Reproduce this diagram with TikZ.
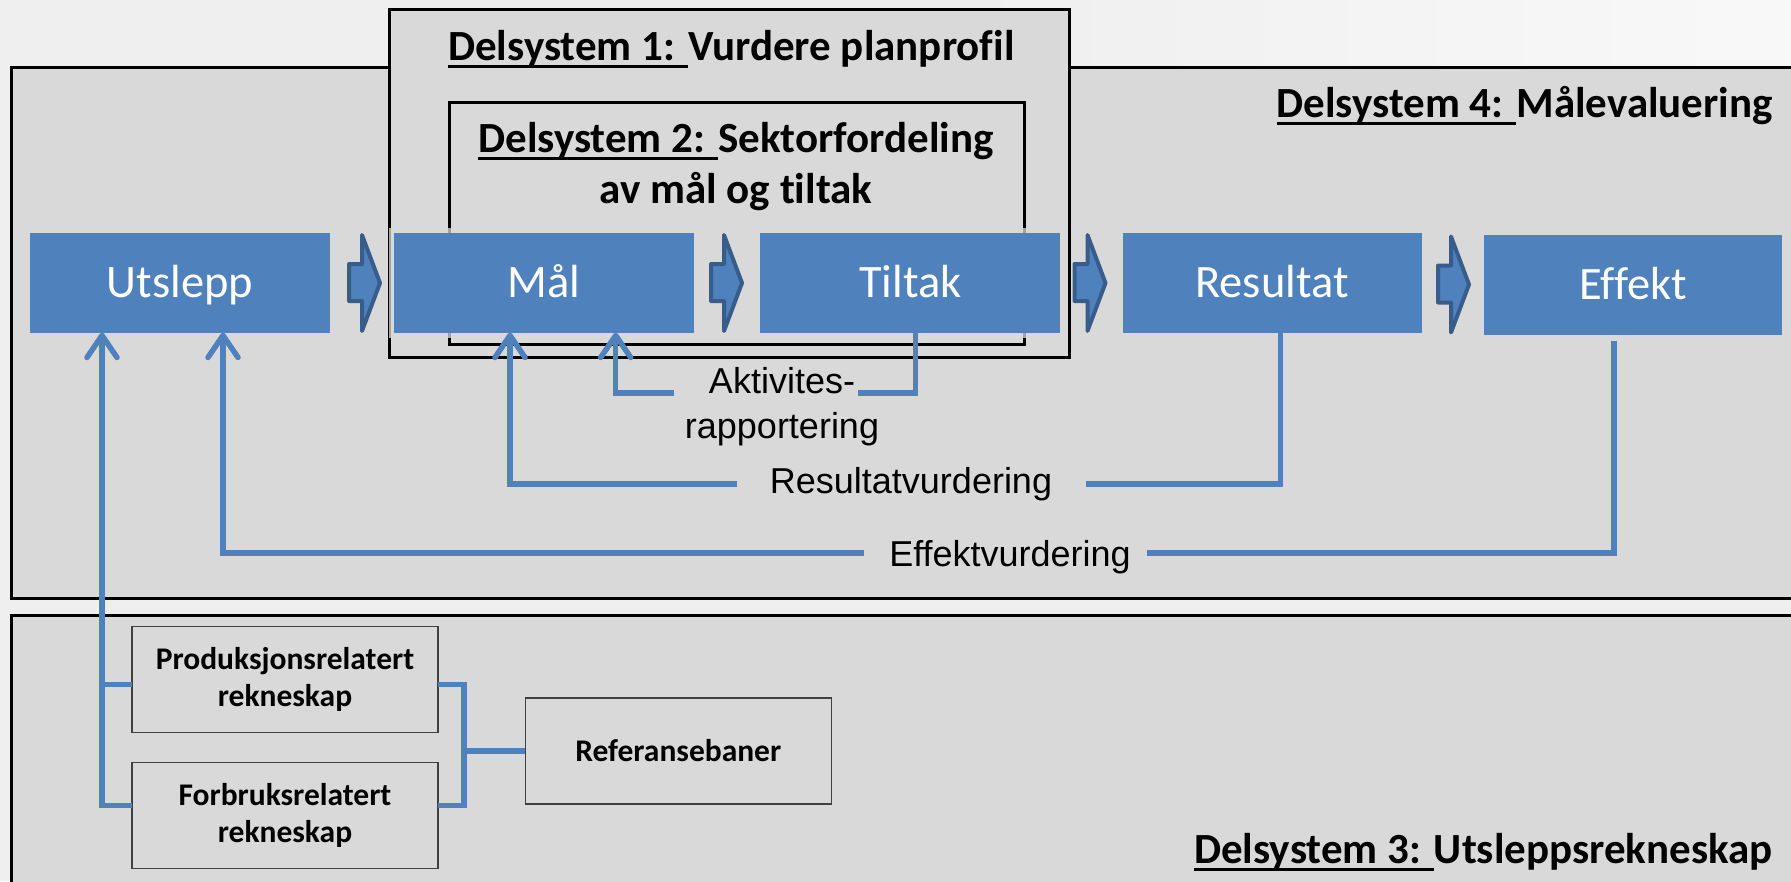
\documentclass[tikz,border=0pt]{standalone}
\usepackage{fontspec}
\setmainfont[Ligatures={NoCommon}]{Carlito}
\newfontfamily\arialf{Liberation Sans}
\usetikzlibrary{arrows.meta,calc}
\definecolor{bluefill}{HTML}{4F81BD}
\definecolor{blueedge}{HTML}{385D8A}
\definecolor{panel}{HTML}{D9D9D9}
\definecolor{bgc}{HTML}{EFEFEF}
\newcommand\ulbox[1]{\setbox0=\hbox{#1}\rlap{\rule[-8pt]{\wd0}{3pt}}\box0}
\begin{document}
\begin{tikzpicture}[x=1pt,y=-1pt,
  panelbox/.style={draw=black, line width=3pt, fill=panel},
  bluebox/.style={rectangle, fill=bluefill, text=white, inner sep=0pt, outer sep=0pt,
    minimum width=300pt, minimum height=100pt, text height=29pt, text depth=0pt,
    font=\fontsize{46.5}{50}\selectfont,
    preaction={draw=panel, draw opacity=0.75, line width=10pt}},
  titlef/.style={inner sep=0pt, font=\fontsize{43}{50}\selectfont\bfseries},
  smallbox/.style={draw=black!75, line width=1.5pt, fill=panel, inner sep=0pt, outer sep=0pt,
    minimum width=306pt, minimum height=105.6pt, align=center,
    font=\fontsize{31.5}{37}\selectfont\bfseries},
  fblabel/.style={inner sep=0pt, font=\arialf\fontsize{36}{44}\selectfont},
  blockarr/.style={fill=bluefill, draw=blueedge, line width=4pt, line join=round},
  fb/.style={draw=bluefill, line width=5.5pt},
  fbarr/.style={-{Straight Barb[length=22pt,width=30pt,round]}}
]
\useasboundingbox (0,0) rectangle (1791,881);
\fill[bgc] (0,0) rectangle (1791,881);
\shade[left color=bgc, right color=white!60!bgc] (960,0) rectangle (1791,66);

% panels
\draw[panelbox] (11,67) rectangle (1805,598);
\draw[panelbox] (11,615) rectangle (1805,900);
\draw[panelbox] (389,9) rectangle (1069,357);
\draw[draw=black, line width=3pt] (449,102) rectangle (1024,344);

% titles
\node[titlef, anchor=base west] (t1) at (448,60) {\ulbox{Delsystem 1: }Vurdere planprofil};
\node[titlef, anchor=base] (t2a) at (736,152) {\ulbox{Delsystem 2: }Sektorfordeling};
\node[titlef, anchor=base] (t2b) at (736,203) {av mål og tiltak};
\node[titlef, anchor=base east] (t4) at (1773,117) {\ulbox{Delsystem 4: }Målevaluering};
\node[titlef, anchor=base east] (t3) at (1773,863) {\ulbox{Delsystem 3: }Utsleppsrekneskap};

% blue boxes
\node[bluebox] (utslepp) at (180,282.7) {Utslepp};
\node[bluebox] (mal) at (543.7,282.7) {Mål};
\node[bluebox] (tiltak) at (910.3,282.7) {Tiltak};
\node[bluebox, minimum width=299pt] (resultat) at (1272,282.7) {Resultat};
\node[bluebox, minimum width=298pt] (effekt) at (1633,285) {Effekt};

% block arrows
\foreach \L/\dy in {349/0, 711/0, 1074.5/0, 1438/1.5}
  \draw[blockarr, shift={(\L,\dy)}] (0,264) -- (13,264) -- (13,235) -- (31,283)
     -- (13,331) -- (13,301) -- (0,301) -- cycle;

% small boxes
\node[smallbox] (prod) at (285,679.5) {Produksjonsrelatert\\rekneskap};
\node[smallbox] (forbruk) at (285,815.5) {Forbruksrelatert\\rekneskap};
\node[smallbox, minimum height=106pt] (ref) at (678.3,751) {Referansebaner};

% labels
\node[fblabel, anchor=base] (akt1) at (782,393) {Aktivites-};
\node[fblabel, anchor=base] (akt2) at (782,438) {rapportering};
\node[fblabel, anchor=base] (reslab) at (911,493) {Resultatvurdering};
\node[fblabel, anchor=base] (efflab) at (1010,566) {Effektvurdering};

% coordinates
\coordinate (aktR) at (858,393);
\coordinate (aktL) at (674,393);
\coordinate (resR) at (1086,484);
\coordinate (resL) at (736.7,484);
\coordinate (effR) at (1147,553);
\coordinate (effL) at (864,553);
\coordinate (uA) at ([xshift=-78]utslepp.south);
\coordinate (prodW) at ([yshift=-5]prod.west);
\coordinate (prodE) at ([yshift=-5]prod.east);
\coordinate (forbW) at ([yshift=10]forbruk.west);
\coordinate (forbE) at ([yshift=10]forbruk.east);
\coordinate (brk) at (464,751);

% feedback connectors
\draw[fb] ([xshift=5]tiltak.south) |- (aktR);
\draw[fb, fbarr] (aktL) -| ([xshift=72]mal.south);
\draw[fb] ([xshift=8.7]resultat.south) |- (resR);
\draw[fb, fbarr] (resL) -| ([xshift=-33.7]mal.south);
\draw[fb] ([shift={(-19,6)}]effekt.south) |- (effR);
\draw[fb, fbarr] (effL) -| ([xshift=43]utslepp.south);
\draw[fb, fbarr] (forbW) -| (uA);
\draw[fb] (prodW) -- (uA |- prodW);
\draw[fb] (prodE) -| (brk) |- (forbE);
\draw[fb] (brk) -- (ref.west);
\end{tikzpicture}
\end{document}
